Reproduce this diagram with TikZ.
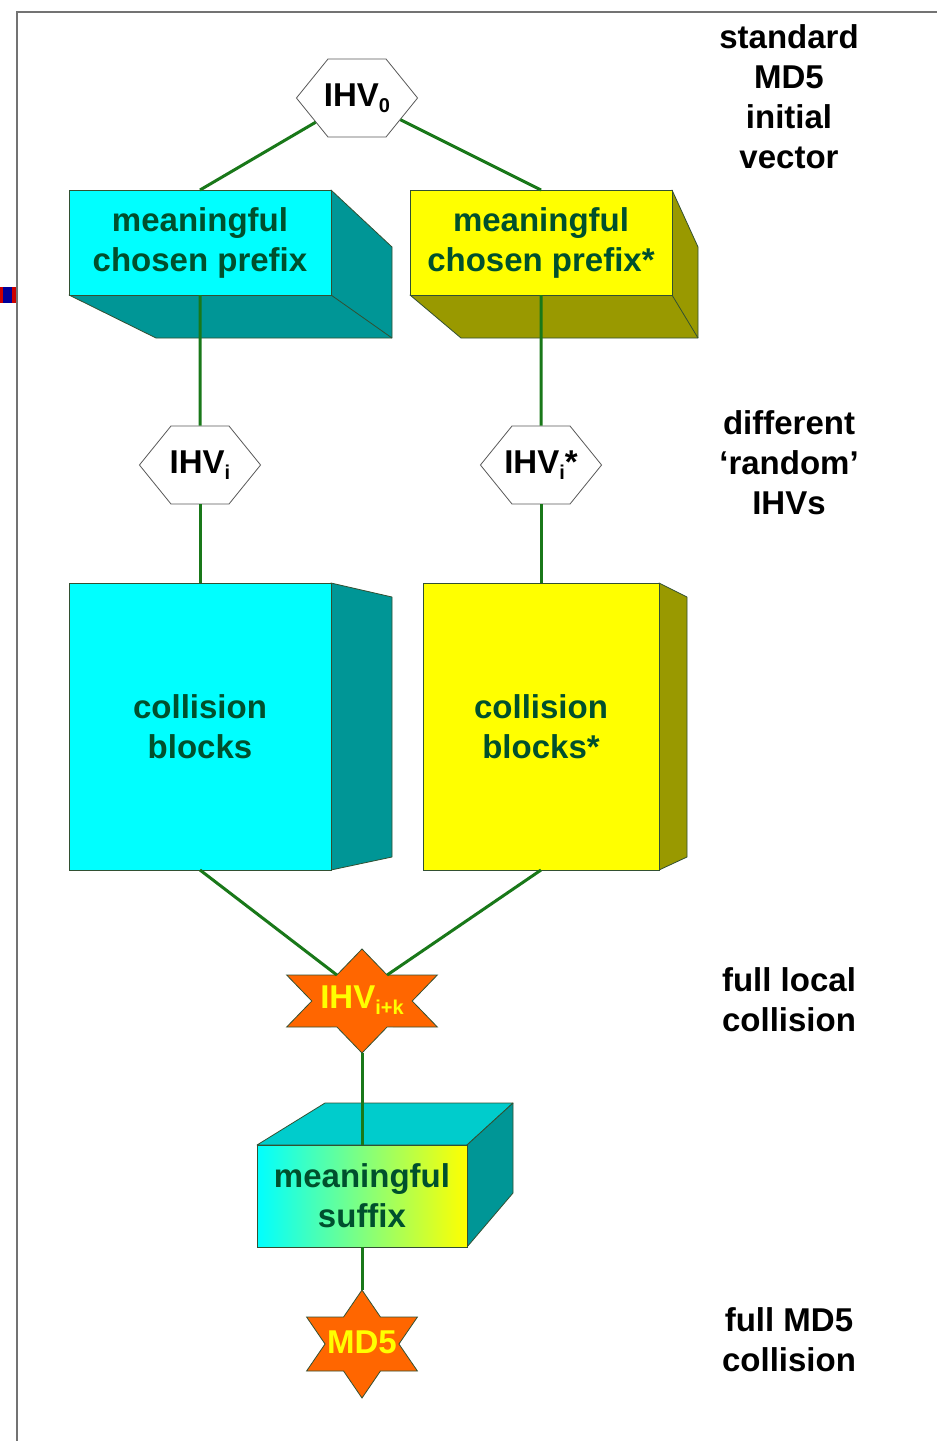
\documentclass[tikz,border=0pt]{standalone}
\usepackage{fontspec}
\setmainfont{Liberation Sans}
\usetikzlibrary{shapes.symbols}
\definecolor{frontcyan}{RGB}{0,255,255}
\definecolor{sidecyan}{RGB}{0,150,150}
\definecolor{topcyan}{RGB}{0,204,204}
\definecolor{frontyellow}{RGB}{255,255,0}
\definecolor{sideyellow}{RGB}{153,153,0}
\definecolor{edge}{RGB}{50,80,50}
\definecolor{boxtext}{RGB}{0,80,45}
\definecolor{linkgreen}{RGB}{25,120,25}
\definecolor{starorange}{RGB}{255,102,0}
\definecolor{staryellow}{RGB}{255,255,0}
\newcommand{\lowidx}[1]{{\fontsize{20}{20}\selectfont\raisebox{-6pt}{#1}}}
\newcommand{\hexlabel}[1]{\makebox[58pt]{#1}}
\newcommand{\hexstar}[4]{%
\begin{scope}[shift={(#2)},x=#3pt,y=-#4pt]
\draw[starpath] (90:1) \foreach \a in {90,150,...,390} {-- ({\a+30}:0.577) -- ({\a+60}:1)} -- cycle;
\coordinate (#1-top) at (270:1);\coordinate (#1-bot) at (90:1);
\coordinate (#1-ul) at (240:0.577);\coordinate (#1-ur) at (300:0.577);
\end{scope}}
\begin{document}
\begin{tikzpicture}[x=1pt,y=-1pt,font=\fontsize{33}{40}\selectfont\bfseries,
  face/.style={draw=edge,line width=.8pt,inner sep=0pt,outer sep=0pt,text=boxtext,align=center},
  side/.style={draw=edge,line width=.8pt,line join=round},
  hexcell/.style={signal,signal to=west and east,signal pointer angle=102,draw=black!65,fill=white,line width=.8pt,minimum height=78pt,inner sep=0pt},
  starpath/.style={draw=edge,fill=starorange,line width=.8pt},
  startext/.style={text=staryellow,inner sep=0pt},
  link/.style={draw=linkgreen,line width=3pt},
  note/.style={align=center}]
\useasboundingbox (0,0) rectangle (937,1441);
\fill[white] (0,0) rectangle (937,1441);
\draw[black!55,line width=1.5pt] (17,1441)--(17,12)--(937,12);
\fill[red!80!black] (0,287) rectangle (16,303);\fill[blue!60!black] (3,287) rectangle (12,303);
% 3d sides of the boxes
\filldraw[side,fill=sidecyan] (331,190)--(392,247)--(392,338)--(156,338)--(69,295)--(331,295)--cycle;\draw[side] (331,295)--(392,338);
\filldraw[side,fill=sideyellow] (672,190)--(698,247)--(698,338)--(461,338)--(410,295)--(672,295)--cycle;\draw[side] (672,295)--(698,338);
\filldraw[side,fill=sidecyan] (331,583)--(392,597)--(392,857)--(331,870)--cycle;
\filldraw[side,fill=sideyellow] (659,583)--(687,597)--(687,857)--(659,870)--cycle;
\filldraw[side,fill=topcyan] (257,1145)--(325,1103)--(513,1103)--(467,1145)--cycle;
\filldraw[side,fill=sidecyan] (467,1145)--(513,1103)--(513,1193)--(467,1247)--cycle;
% front faces
\node[face,fill=frontcyan,minimum width=262pt,minimum height=105pt] (pre1) at (200,242.5) {meaningful\\chosen prefix};
\node[face,fill=frontyellow,minimum width=262pt,minimum height=105pt] (pre2) at (541,242.5) {meaningful\\chosen prefix*};
\node[face,fill=frontcyan,minimum width=262pt,minimum height=287pt] (cb1) at (200,726.5) {collision\\blocks};
\node[face,fill=frontyellow,minimum width=236pt,minimum height=287pt] (cb2) at (541,726.5) {collision\\blocks*};
\node[face,left color=frontcyan,right color=frontyellow,minimum width=210pt,minimum height=102pt] (suf) at (362,1196) {meaningful\\suffix};
% IHVs
\node[hexcell] (ihv0) at (357,98) {\hexlabel{IHV\lowidx{0}}};
\node[hexcell] (ihv1) at (200,465) {\hexlabel{IHV\lowidx{i}}};
\node[hexcell] (ihv2) at (541,465) {\hexlabel{IHV\lowidx{i}*}};
\hexstar{s1}{362,1001}{87}{52}\node[startext] (loc) at (362,1000) {IHV\lowidx{i+k}};
\hexstar{s2}{362,1344}{64}{54}\node[startext] (md) at (362,1342) {MD5};
% connectors
\draw[link] (ihv0)--(pre1.north);\draw[link] (ihv0)--(pre2.north);
\draw[link] (pre1.south)--(ihv1);\draw[link] (pre2.south)--(ihv2);
\draw[link] (ihv1)--(cb1.north);\draw[link] (ihv2)--(cb2.north);
\draw[link] (cb1.south)--(s1-ul);\draw[link] (cb2.south)--(s1-ur);
\draw[link] (s1-bot)--(suf.north);\draw[link] (suf.south)--(s2-top);
% notes on the right
\node[note] (n1) at (789,97) {standard\\MD5\\initial\\vector};
\node[note] (n2) at (789,463) {different\\‘random’\\IHVs};
\node[note] (n3) at (789,1000) {full local\\collision};
\node[note] (n4) at (789,1340) {full MD5\\collision};
\end{tikzpicture}
\end{document}
